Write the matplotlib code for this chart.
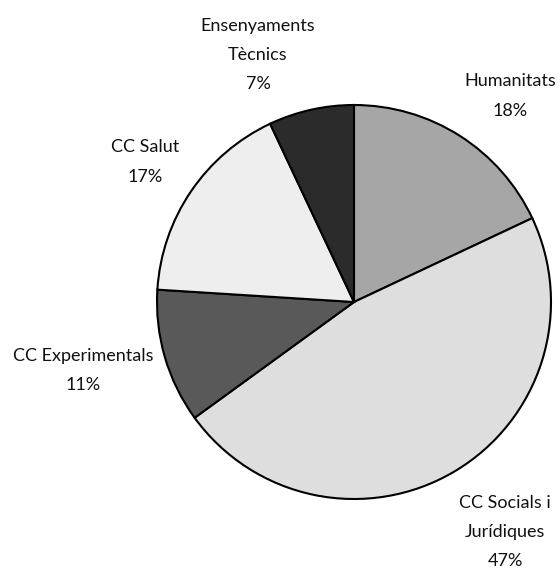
import matplotlib
matplotlib.use("Agg")
import matplotlib.pyplot as plt

categories = ["Humanitats", "CC Socials i\nJurídiques", "CC Experimentals", "CC Salut", "Ensenyaments\nTècnics"]
shares = [18, 47, 11, 17, 7]
colors = ["#a6a6a6", "#dedede", "#595959", "#eeeeee", "#2b2b2b"]

# label anchor points (canvas pixels from top-left)
label_xy = [(510, 96), (505, 532), (83, 370), (145, 162), (258, 55)]

W, H = 560, 579
fig = plt.figure(figsize=(W / 100, H / 100), dpi=100)
ax = fig.add_axes([0, 0, 1, 1])

ax.pie(shares, colors=colors, startangle=90, counterclock=False,
       center=(354, H - 302), radius=197,
       wedgeprops=dict(edgecolor="black", linewidth=1.5))

ax.set_xlim(0, W)
ax.set_ylim(0, H)
ax.set_aspect("equal")
ax.axis("off")

for name, val, (x, y) in zip(categories, shares, label_xy):
    ax.text(x, H - y, f"{name}\n{val}%", ha="center", va="center",
            fontsize=13, family="Lato", color="#111111", linespacing=2.0)

fig.savefig("out.png", dpi=100)
